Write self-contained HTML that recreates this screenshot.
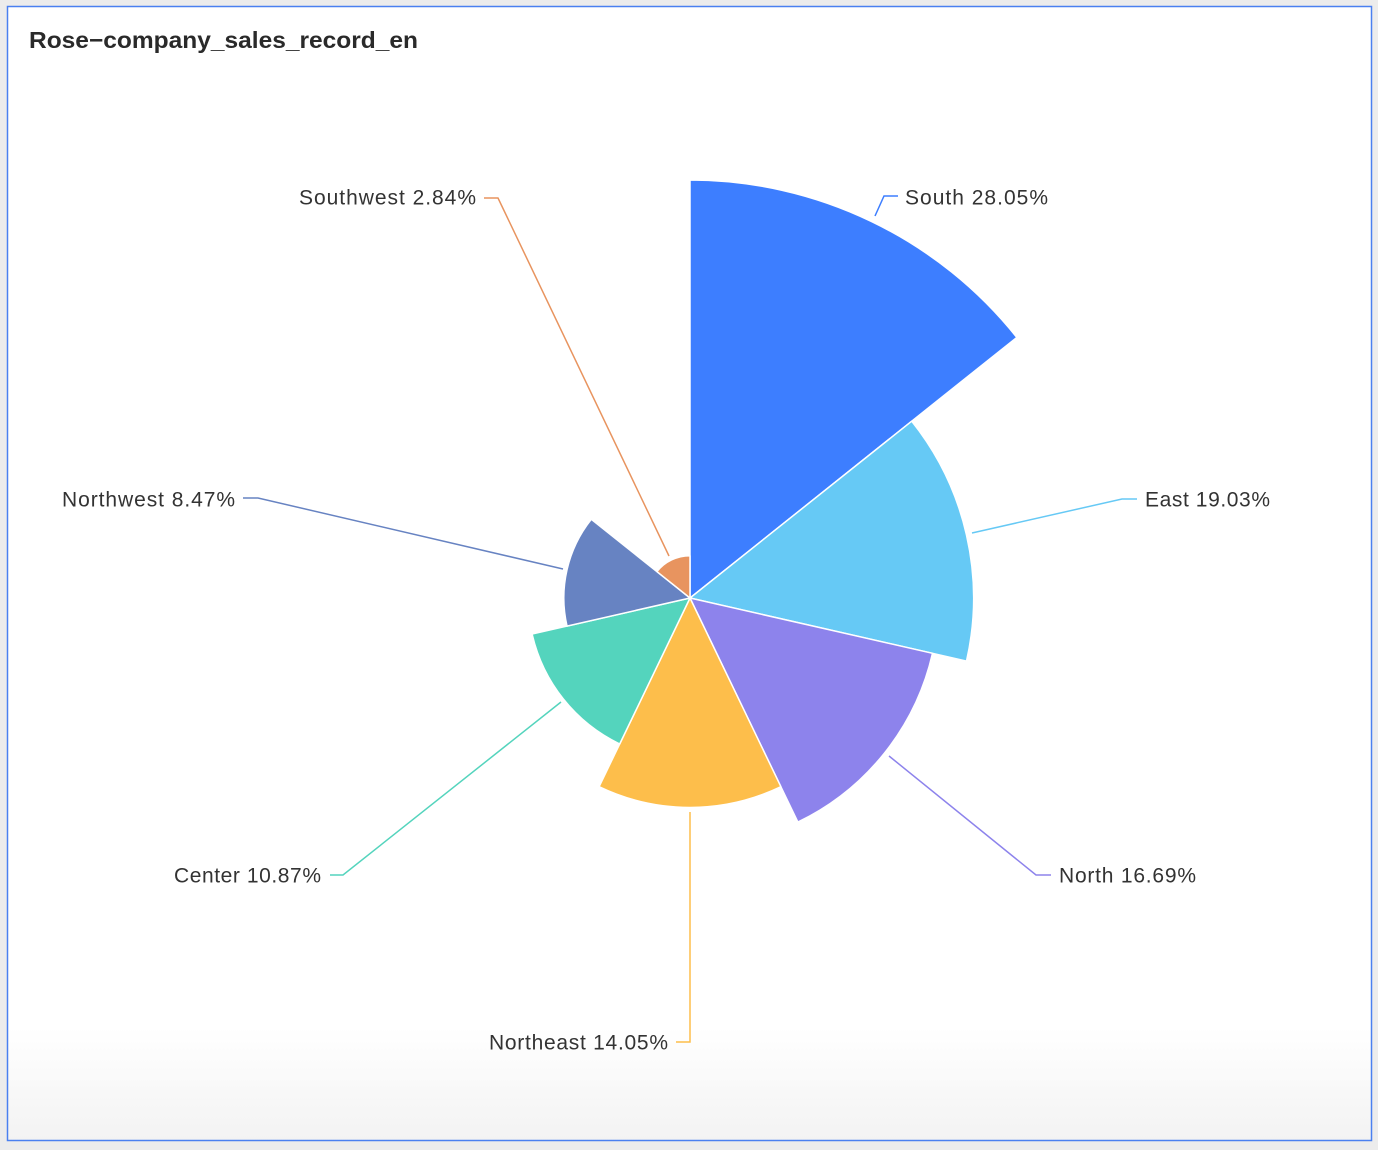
<!DOCTYPE html>
<html><head><meta charset="utf-8"><style>
html,body{margin:0;padding:0;background:#ececec;width:1378px;height:1150px;overflow:hidden}
</style></head><body>
<svg width="1378" height="1150" xmlns="http://www.w3.org/2000/svg" style="position:absolute;left:0;top:0">
<defs><linearGradient id="g" x1="0" y1="0" x2="0" y2="1">
<stop offset="0.9" stop-color="#ffffff"/><stop offset="1" stop-color="#f3f3f3"/></linearGradient></defs>
<rect x="7.5" y="6.5" width="1364" height="1134" fill="url(#g)" stroke="#4a80f0" stroke-width="1.5"/>
<text x="29" y="48" font-family="Liberation Sans, sans-serif" font-size="23" font-weight="bold" fill="#2a2a2a" textLength="389" lengthAdjust="spacingAndGlyphs">Rose−company_sales_record_en</text>
<g stroke="#fff" stroke-width="1.5" stroke-linejoin="round">
<path d="M690,598 L690,180 A418,418 0 0 1 1016.8,337.4 Z" fill="#3d7eff"/>
<path d="M690,598 L911.7,421.2 A283.6,283.6 0 0 1 966.5,661.1 Z" fill="#66c9f5"/>
<path d="M690,598 L932.5,653.3 A248.7,248.7 0 0 1 797.9,822.1 Z" fill="#8d83ec"/>
<path d="M690,598 L780.9,786.7 A209.4,209.4 0 0 1 599.1,786.7 Z" fill="#fdbe4b"/>
<path d="M690,598 L619.7,744 A162,162 0 0 1 532.1,634 Z" fill="#54d4bd"/>
<path d="M690,598 L567,626.1 A126.2,126.2 0 0 1 591.3,519.3 Z" fill="#6783c2"/>
<path d="M690,598 L656.9,571.6 A42.3,42.3 0 0 1 690,555.7 Z" fill="#e8945f"/>
</g>
<g fill="none" stroke-width="1.5">
<polyline points="875,216 884,196 898,196" stroke="#3d7eff"/>
<polyline points="972,533 1122,499 1137,499" stroke="#66c9f5"/>
<polyline points="889,756 1036,875 1051,875" stroke="#8d83ec"/>
<polyline points="690,812 690,1042 676,1042" stroke="#fdbe4b"/>
<polyline points="561,702 343,875 330,875" stroke="#54d4bd"/>
<polyline points="563,569 258,498 243,498" stroke="#6783c2"/>
<polyline points="669,556 498,198 484,198" stroke="#e8945f"/>
</g>
<g font-family="Liberation Sans, sans-serif" font-size="21" fill="#333" dominant-baseline="central" lengthAdjust="spacingAndGlyphs">
<text x="905" y="198" textLength="143">South 28.05%</text>
<text x="1145" y="500" textLength="125">East 19.03%</text>
<text x="1059" y="876" textLength="137">North 16.69%</text>
<text x="489" y="1043" textLength="179">Northeast 14.05%</text>
<text x="174" y="876" textLength="147">Center 10.87%</text>
<text x="62" y="500" textLength="173">Northwest 8.47%</text>
<text x="299" y="198" textLength="177">Southwest 2.84%</text>
</g>
</svg>
</body></html>
